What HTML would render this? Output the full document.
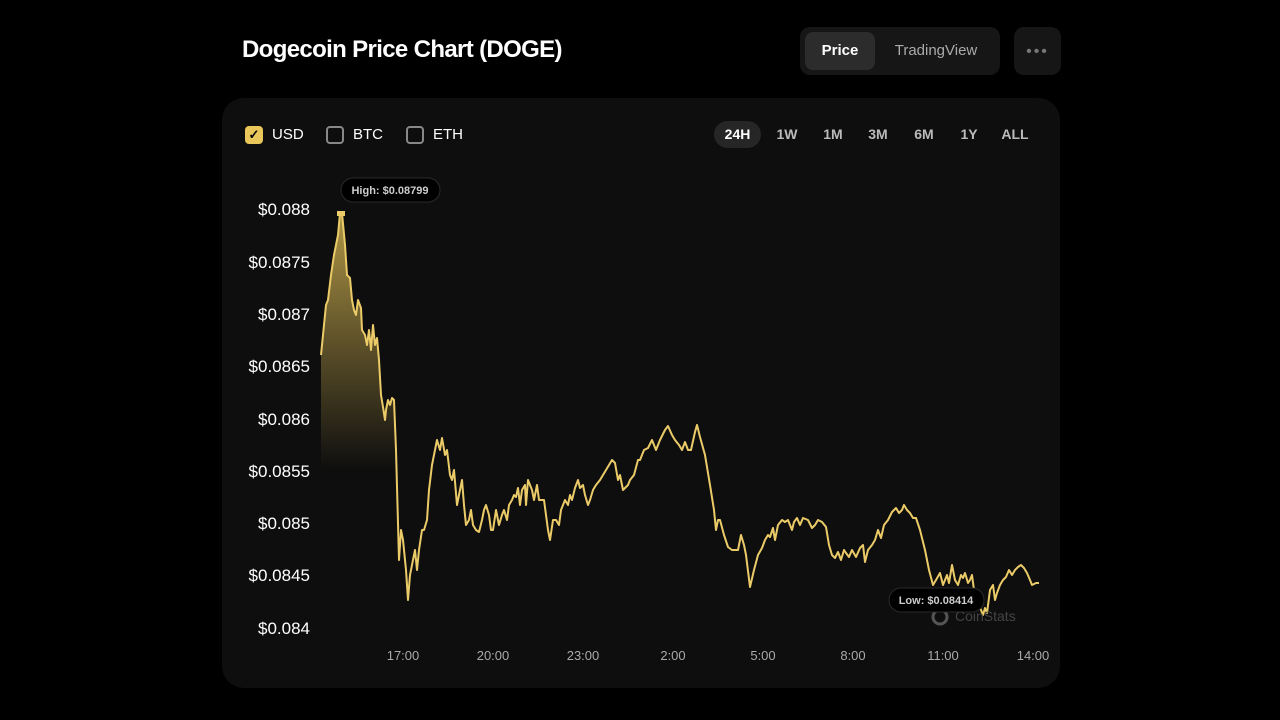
<!DOCTYPE html>
<html><head><meta charset="utf-8"><style>
*{margin:0;padding:0;box-sizing:border-box}
body{width:1280px;height:720px;background:#000;font-family:"Liberation Sans",sans-serif;position:relative;overflow:hidden;color:#fff}
.abs{position:absolute}
.title{left:242px;top:36px;font-size:24px;font-weight:bold;letter-spacing:-0.65px}
.seg{left:800px;top:27px;width:200px;height:48px;background:#161616;border-radius:10px}
.price{left:805px;top:32px;width:70px;height:38px;background:#2c2c2c;border-radius:8px;font-size:15px;font-weight:bold;text-align:center;line-height:38px}
.tv{left:880px;top:32px;width:112px;height:38px;font-size:15px;color:#aaa;text-align:center;line-height:38px}
.dots{left:1014px;top:27px;width:47px;height:48px;background:#161616;border-radius:10px;color:#777;text-align:center;line-height:50px;font-size:16px;letter-spacing:2px}
.card{left:222px;top:98px;width:838px;height:590px;background:#0e0e0e;border-radius:22px}
.cb{width:18px;height:18px;border:2px solid #888;border-radius:4px;top:126px}
.lab{font-size:15px;top:126px}
.tf{top:121px;height:27px;line-height:27px;font-size:14px;font-weight:bold;color:#bbb;text-align:center}
.yl{right:970px;font-size:17px;text-align:right}
.xl{top:648px;font-size:13px;color:#aaa;width:60px;text-align:center}
</style></head><body>
<div class="abs title">Dogecoin Price Chart (DOGE)</div>
<div class="abs seg"></div>
<div class="abs price">Price</div>
<div class="abs tv">TradingView</div>
<div class="abs dots">•••</div>
<div class="abs card"></div>
<div class="abs cb" style="left:245px;background:#e8c659;border-color:#e8c659;color:#000;font-size:13px;line-height:14px;text-align:center;font-weight:bold">✓</div>
<div class="abs lab" style="left:272px">USD</div>
<div class="abs cb" style="left:326px"></div>
<div class="abs lab" style="left:353px">BTC</div>
<div class="abs cb" style="left:406px"></div>
<div class="abs lab" style="left:433px">ETH</div>
<div class="abs tf" style="left:714px;width:47px;background:#262626;border-radius:14px;color:#fff">24H</div>
<div class="abs tf" style="left:770px;width:34px">1W</div>
<div class="abs tf" style="left:816px;width:34px">1M</div>
<div class="abs tf" style="left:861px;width:34px">3M</div>
<div class="abs tf" style="left:907px;width:34px">6M</div>
<div class="abs tf" style="left:952px;width:34px">1Y</div>
<div class="abs tf" style="left:996px;width:38px">ALL</div>
<div class="abs yl" style="top:200px">$0.088</div>
<div class="abs yl" style="top:253px">$0.0875</div>
<div class="abs yl" style="top:305px">$0.087</div>
<div class="abs yl" style="top:357px">$0.0865</div>
<div class="abs yl" style="top:410px">$0.086</div>
<div class="abs yl" style="top:462px">$0.0855</div>
<div class="abs yl" style="top:514px">$0.085</div>
<div class="abs yl" style="top:566px">$0.0845</div>
<div class="abs yl" style="top:619px">$0.084</div>
<div class="abs xl" style="left:373px">17:00</div>
<div class="abs xl" style="left:463px">20:00</div>
<div class="abs xl" style="left:553px">23:00</div>
<div class="abs xl" style="left:643px">2:00</div>
<div class="abs xl" style="left:733px">5:00</div>
<div class="abs xl" style="left:823px">8:00</div>
<div class="abs xl" style="left:913px">11:00</div>
<div class="abs xl" style="left:1003px">14:00</div>
<svg class="abs" style="left:0;top:0" width="1280" height="720">
<defs><linearGradient id="g" x1="0" y1="210" x2="0" y2="470" gradientUnits="userSpaceOnUse"><stop offset="0" stop-color="#e8c659" stop-opacity="0.75"/><stop offset="1" stop-color="#e8c659" stop-opacity="0"/></linearGradient></defs>
<polygon fill="url(#g)" points="321,640 321,355 326,305 328,300 331,275 334,255 338,235 340,213 342,213 345,245 347,275 350,278 352,300 354,310 356,315 358,300 361,308 362,330 365,335 367,345 369,330 371,350 373,325 375,345 377,338 379,360 381,395 383,407 385,420 386,410 388,400 390,405 392,398 394,400 396,450 399,560 399,640"/>
<polyline fill="none" stroke="#ebcb68" stroke-width="2" stroke-linejoin="round" points="321,355 326,305 328,300 331,275 334,255 338,235 340,213 342,213 345,245 347,275 350,278 352,300 354,310 356,315 358,300 361,308 362,330 365,335 367,345 369,330 371,350 373,325 375,345 377,338 379,360 381,395 383,407 385,420 386,410 388,400 390,405 392,398 394,400 396,450 399,560 401,530 403,540 406,570 408,600 410,575 413,560 415,550 417,570 419,550 422,530 424,530 427,520 429,490 432,465 437,440 440,450 442,438 445,455 447,450 450,475 452,480 454,470 457,505 459,495 462,480 464,505 466,525 469,520 471,510 473,525 476,530 479,532 482,520 484,510 486,505 489,515 491,530 493,530 496,510 499,525 502,515 504,510 507,520 509,505 512,500 514,495 516,497 518,488 520,505 522,490 525,485 526,505 528,480 532,490 534,500 537,485 539,500 544,500 548,530 550,540 553,520 556,520 559,525 561,510 565,500 568,505 570,495 572,500 575,488 578,480 580,488 583,485 585,495 588,505 590,500 593,490 596,485 600,480 606,470 612,460 615,463 618,480 620,475 623,490 628,485 630,480 634,475 638,460 640,460 644,450 648,448 652,440 656,450 660,440 665,430 668,426 672,435 675,440 679,445 682,450 685,442 688,450 691,450 695,432 697,425 700,437 705,455 710,485 714,510 716,530 718,520 720,520 724,535 728,547 732,550 738,550 741,535 744,545 746,555 750,587 754,570 758,555 762,548 765,540 768,535 770,537 773,528 775,540 778,525 782,520 785,522 788,520 792,530 794,522 797,518 800,525 803,518 808,520 812,528 815,525 818,520 822,522 826,527 829,545 832,555 835,558 838,552 841,560 844,550 846,553 849,557 852,550 856,557 860,548 863,545 865,562 868,550 872,545 875,540 878,530 881,538 884,525 888,520 892,512 896,508 899,513 902,510 904,505 907,510 910,513 913,518 916,518 920,530 925,550 929,570 933,585 936,580 940,573 943,585 947,575 949,583 952,565 955,580 958,585 961,575 963,578 965,573 968,583 970,580 972,575 974,590 977,600 983,615 985,608 987,613 990,590 993,585 995,600 997,593 1000,585 1003,580 1006,577 1009,570 1012,575 1015,570 1018,567 1021,565 1024,568 1027,573 1030,580 1032,585 1036,583 1039,583"/>
<rect x="337" y="211" width="8" height="5" fill="#ebcb68"/>
<circle cx="940" cy="617" r="7" fill="none" stroke="#555" stroke-width="3"/>
<text x="955" y="621" font-family="Liberation Sans" font-size="14" fill="#444">CoinStats</text>
<rect x="341" y="178" width="99" height="24" rx="12" fill="#000" stroke="#2a2a2a"/>
<text x="390" y="194" text-anchor="middle" font-family="Liberation Sans" font-size="11" font-weight="bold" fill="#ccc">High: $0.08799</text>
<rect x="889" y="588" width="95" height="24" rx="12" fill="#000" stroke="#2a2a2a"/>
<text x="936" y="604" text-anchor="middle" font-family="Liberation Sans" font-size="11" font-weight="bold" fill="#ccc">Low: $0.08414</text>
</svg>
</body></html>
